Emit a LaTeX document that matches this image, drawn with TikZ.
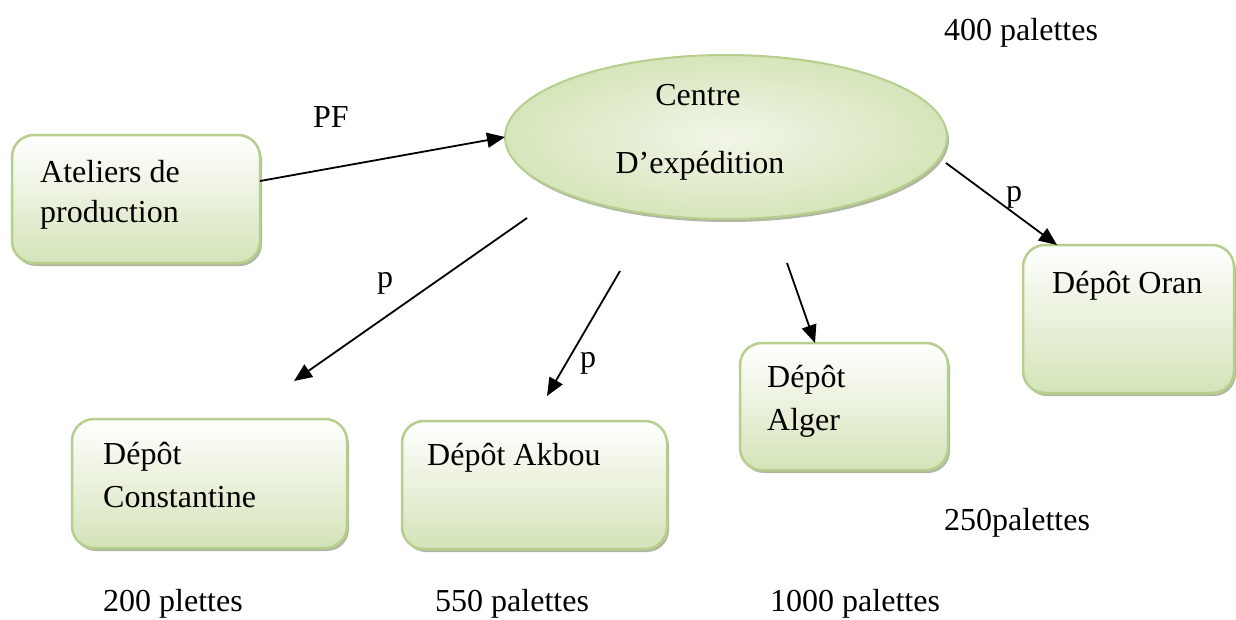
\documentclass[tikz,border=0pt]{standalone}
\usepackage{fontspec}
\setmainfont{Liberation Serif}
\usetikzlibrary{shapes.geometric,shadows,arrows.meta}

\definecolor{boxline}{HTML}{B7CF8C}
\definecolor{boxlow}{HTML}{D4E3B8}
\definecolor{ellin}{HTML}{F1F6E8}
\definecolor{ellout}{HTML}{D6E5BA}
\definecolor{shade}{HTML}{8E9A7A}

\tikzset{
  depot/.style={rectangle, rounded corners=22pt, draw=boxline, line width=2.5pt,
    top color=white, bottom color=boxlow, inner sep=0pt,
    drop shadow={shadow xshift=2pt, shadow yshift=-3pt, fill=shade, opacity=0.7}},
  centre/.style={ellipse, draw=boxline, line width=2pt, inner color=ellin,
    outer color=ellout, inner sep=0pt,
    drop shadow={shadow xshift=2pt, shadow yshift=-3pt, fill=shade, opacity=0.7}},
  txt/.style={anchor=base west, inner sep=0pt, font=\fontsize{32}{41}\selectfont},
  flow/.style={line width=1.8pt, -{Triangle[length=18pt,width=15pt]}}
}

\begin{document}
\begin{tikzpicture}[x=1pt,y=-1pt]
\useasboundingbox (0,0) rectangle (1236,619);

% boxes and the dispatch centre
\node[depot, minimum width=248pt, minimum height=128pt] (atel) at (136,199) {};
\node[centre, minimum width=442pt, minimum height=164pt] (ctr) at (726,137) {};
\node[depot, minimum width=275pt, minimum height=129pt] (cons) at (209.5,483.5) {};
\node[depot, minimum width=265pt, minimum height=128pt] (akb) at (534.5,485) {};
\node[depot, minimum width=208pt, minimum height=127pt] (alg) at (844,406.5) {};
\node[depot, minimum width=211pt, minimum height=148pt] (oran) at (1128.5,319) {};

% texts inside the shapes
\node[txt] (t1) at (40,182) {Ateliers de};
\node[txt] (t2) at (40,222) {production};
\node[txt, anchor=base] (t3) at (698,105) {Centre};
\node[txt, anchor=base] (t4) at (700,173) {D’expédition};
\node[txt] (t5) at (103,464) {Dépôt};
\node[txt] (t6) at (103,507) {Constantine};
\node[txt] (t7) at (427,465) {Dépôt Akbou};
\node[txt] (t8) at (767,387) {Dépôt};
\node[txt] (t9) at (767,430) {Alger};
\node[txt] (t10) at (1052,293) {Dépôt Oran};

% flow labels and quantities
\node[txt] (pf) at (313,127) {PF};
\node[txt] (p1) at (377,287) {p};
\node[txt] (p2) at (580,367) {p};
\node[txt] (p3) at (1006,201) {p};
\node[txt] (q1) at (944,40) {400 palettes};
\node[txt] (q2) at (944,530) {250palettes};
\node[txt] (q3) at (103,611) {200 plettes};
\node[txt] (q4) at (435,611) {550 palettes};
\node[txt] (q5) at (770,611) {1000 palettes};

% free ends of the arrows
\coordinate (a1s) at (260,181);
\coordinate (a1e) at (505,137);
\coordinate (a2s) at (527,218);
\coordinate (a2e) at (294,381);
\coordinate (a3s) at (620,271);
\coordinate (a3e) at (547,396);
\coordinate (a4s) at (787,263);
\coordinate (a4e) at (815,343);
\coordinate (a5s) at (946,163);
\coordinate (a5e) at (1057,245);

\draw[flow] (a1s) -- (a1e);
\draw[flow] (a2s) -- (a2e);
\draw[flow] (a3s) -- (a3e);
\draw[flow] (a4s) -- (a4e);
\draw[flow] (a5s) -- (a5e);
\end{tikzpicture}
\end{document}
